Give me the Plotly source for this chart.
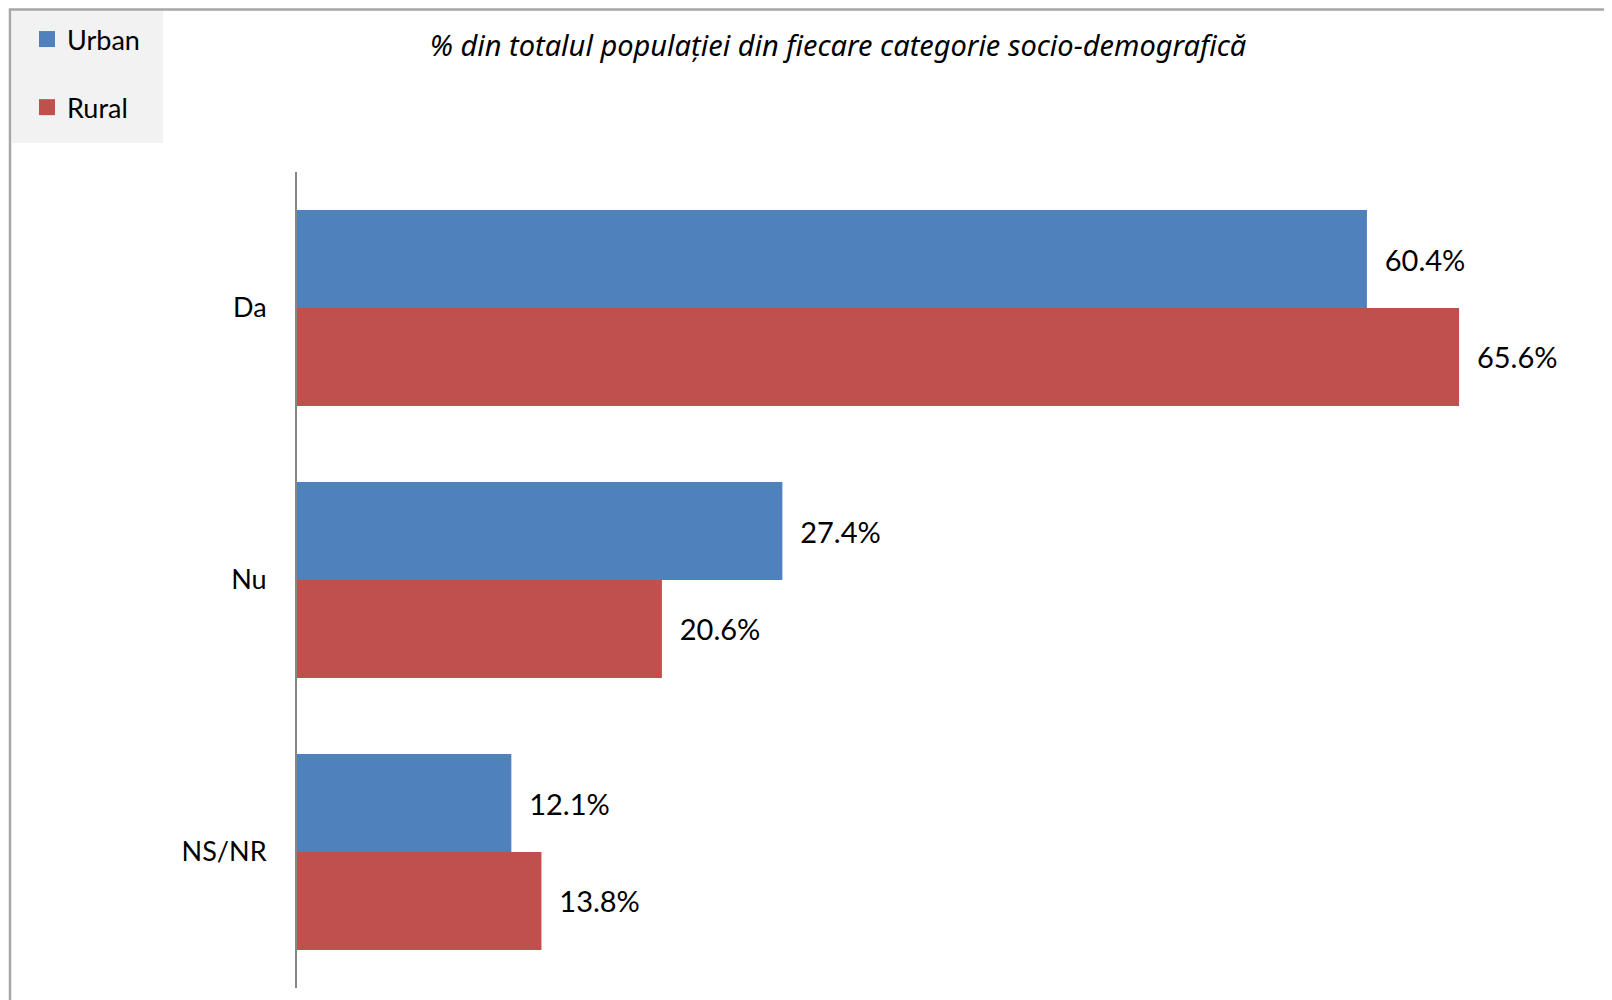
import plotly.graph_objects as go

categories = ["Da", "Nu", "NS/NR"]
urban = [60.4, 27.4, 12.1]
rural = [65.6, 20.6, 13.8]
series_names = ["Urban", "Rural"]
colors = ["#4f81bd", "#c0504d"]
title_text = "% din totalul populației din fiecare categorie socio-demografică"

W, H = 1612, 1000
OFF = 8  # page body margin
ML, MR, MT, MB = 297 - OFF, 1612 - (1537 - OFF), 172 - OFF, 1000 - (988 - OFF)
PW, PH = W - ML - MR, H - MT - MB

def px_x(px):
    return (px - OFF - ML) / PW

def px_y(py):
    return (H - MB - (py - OFF)) / PH

FONT = "Lato"
NB = "\u00a0\u00a0"

fig = go.Figure()
for name, vals, col in zip(series_names, [urban, rural], colors):
    fig.add_trace(go.Bar(
        y=categories, x=vals, orientation="h", name=name,
        marker=dict(color=col, line=dict(width=0)),
        text=[NB + f"{v:.1f}%" for v in vals],
        textposition="outside", cliponaxis=False,
        textfont=dict(family=FONT, size=29, color="#000000"),
        showlegend=False, hoverinfo="skip",
    ))
    fig.add_trace(go.Scatter(
        x=[None], y=[None], mode="markers", name=name,
        marker=dict(symbol="square", size=16, color=col),
        legendgroup=name, showlegend=True,
    ))

fig.update_layout(
    width=W, height=H,
    margin=dict(l=ML, r=MR, t=MT, b=MB, autoexpand=False),
    paper_bgcolor="white", plot_bgcolor="white",
    barmode="group", bargap=0.28, bargroupgap=0,
    font=dict(family=FONT, color="#000000"),
    title=dict(text=title_text, x=(838 - OFF) / W, xref="container", xanchor="center",
               y=1 - (46 - OFF) / H, yref="container", yanchor="middle",
               font=dict(family="Noto Sans", size=29, style="italic", color="#000000")),
    xaxis=dict(range=[0, 70], visible=False, fixedrange=True),
    yaxis=dict(autorange="reversed", showline=True, linecolor="#868686", linewidth=2,
               showgrid=False, zeroline=False, ticks="", ticklabelstandoff=23,
               tickfont=dict(family=FONT, size=27, color="#000000")),
    showlegend=True,
    legend=dict(x=px_x(27), y=px_y(15), xanchor="left", yanchor="top",
                bgcolor="rgba(0,0,0,0)", tracegroupgap=30,
                font=dict(family=FONT, size=27, color="#000000"),
                itemclick=False),
    shapes=[
        dict(type="rect", xref="paper", yref="paper", layer="below",
             x0=px_x(12), x1=px_x(163), y0=px_y(143), y1=px_y(9),
             fillcolor="#f2f2f2", line=dict(width=0)),
        dict(type="rect", xref="paper", yref="paper", layer="above",
             x0=px_x(10), x1=px_x(1610.5), y0=px_y(1015), y1=px_y(9.5),
             fillcolor="rgba(0,0,0,0)", line=dict(color="#a6a6a6", width=2.5)),
    ],
)

fig.write_html("out.html")
